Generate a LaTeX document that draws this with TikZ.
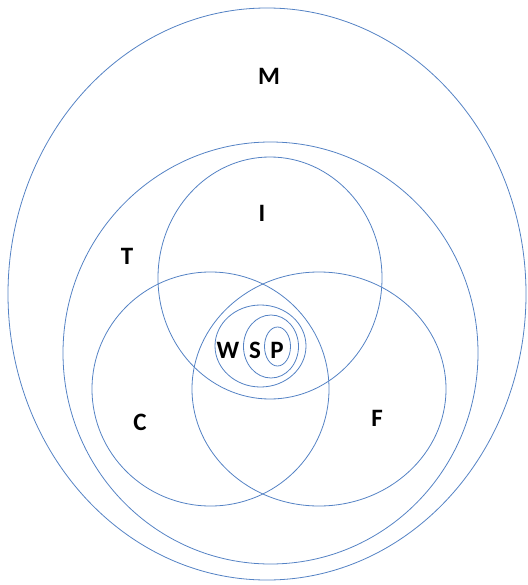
\documentclass[tikz,border=0pt]{standalone}
\usepackage{fontspec}
\setmainfont{Carlito}
\definecolor{venn}{RGB}{84,130,196}
\begin{document}
\begin{tikzpicture}[x=1pt,y=-1pt,
  ring/.style={draw=venn,line width=0.8pt},
  lbl/.style={font=\fontsize{25}{25}\selectfont\bfseries,text=black,inner sep=0pt}]
\useasboundingbox (0,0) rectangle (527,585);
% outer sets
\draw[ring] (267,294) ellipse [x radius=259, y radius=286];
\draw[ring] (270.5,353) ellipse [x radius=207.5, y radius=211];
\draw[ring] (270,278) ellipse [x radius=112, y radius=121];
\draw[ring] (210.5,389) ellipse [x radius=118.5, y radius=117];
\draw[ring] (319,389) ellipse [x radius=127, y radius=117];
% inner nested sets
\draw[ring] (260.5,346) ellipse [x radius=45.5, y radius=41];
\draw[ring] (271,346.5) ellipse [x radius=27.5, y radius=31.5];
\draw[ring] (277.5,346.5) ellipse [x radius=13, y radius=19.5];
% labels
\node[lbl] (M) at (269,76) {M};
\node[lbl] (T) at (127,256) {T};
\node[lbl] (I) at (262,213) {I};
\node[lbl] (C) at (140,422) {C};
\node[lbl] (F) at (377,418) {F};
\node[lbl] (W) at (228,350) {W};
\node[lbl] (S) at (255,350) {S};
\node[lbl] (P) at (277,350) {P};
\end{tikzpicture}
\end{document}
